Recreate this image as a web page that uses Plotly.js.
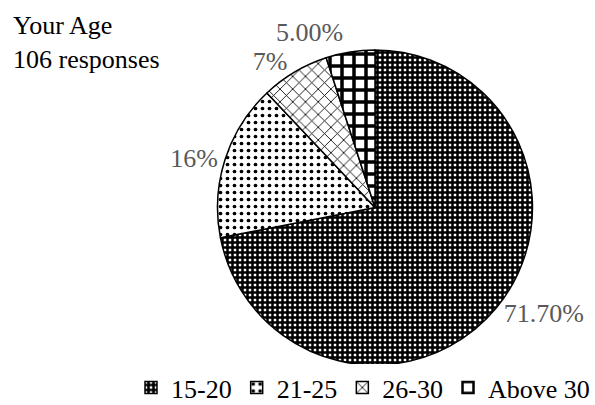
<!DOCTYPE html>
<html>
<head>
<meta charset="utf-8">
<script src="https://cdn.plot.ly/plotly-3.0.1.min.js"></script>
<style>
  html, body { margin: 0; padding: 0; background: #fff; }
  #chart { width: 595px; height: 405px; }
  /* outside labels sit freely, without leader lines */
  #chart path.textline { display: none; }
</style>
</head>
<body>
<div id="chart"></div>
<script>
// Age groups of survey respondents
const ageGroups = ["15-20", "21-25", "26-30", "Above 30"];
const shares = [71.7, 16, 7, 5];
const shareLabels = ["71.70%", "16%", "7%", "5.00%"];

// Fill pattern per slice (monochrome print style)
const patternShapes = ["+", ".", "x", "+"];
const patternSizes = [5, 7, 9, 12];
const patternSolidity = [0.75, 0.22, 0.18, 0.5];

const serif = "Liberation Serif";

const trace = {
  type: "pie",
  labels: ageGroups,
  values: shares,
  text: shareLabels,
  textinfo: "text",
  textposition: "outside",
  hoverinfo: "label+text",
  sort: false,
  direction: "clockwise",
  rotation: 0,
  outsidetextfont: { family: serif, size: 26, color: "#595959" },
  marker: {
    colors: ["white", "white", "white", "white"],
    line: { color: "black", width: 1.5 },
    pattern: {
      shape: patternShapes,
      size: patternSizes,
      solidity: patternSolidity,
      fgcolor: "black",
      bgcolor: "white",
      fillmode: "replace"
    }
  },
  domain: { x: [0.3655, 0.895], y: [0.0988, 0.8765] }
};

const layout = {
  width: 595,
  height: 405,
  margin: { l: 0, r: 0, t: 0, b: 0, autoexpand: false },
  paper_bgcolor: "white",
  font: { family: serif, size: 26, color: "black" },
  showlegend: true,
  legend: {
    orientation: "h",
    x: 1.0, xanchor: "right",
    y: -0.015, yanchor: "bottom",
    font: { family: serif, size: 26, color: "black" },
    itemwidth: 30,
    tracegroupgap: 0,
    traceorder: "normal"
  },
  annotations: [{
    text: "Your Age<br>106 responses",
    x: 0.018, xref: "paper", xanchor: "left",
    y: 0.978, yref: "paper", yanchor: "top",
    showarrow: false, align: "left",
    font: { family: serif, size: 26, color: "black" }
  }]
};

Plotly.newPlot("chart", [trace], layout, { displayModeBar: false, staticPlot: true });
</script>
</body>
</html>
